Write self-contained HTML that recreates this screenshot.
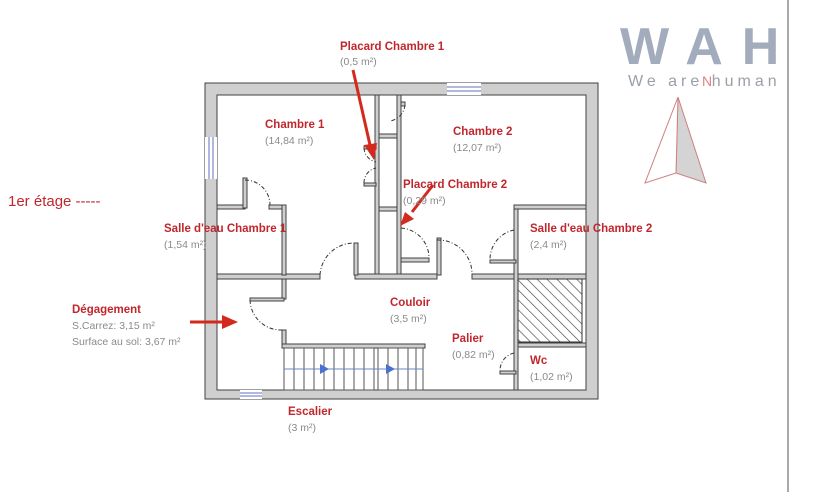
<!DOCTYPE html>
<html><head><meta charset="utf-8"><style>
html,body{margin:0;padding:0;background:#fff;width:828px;height:492px;overflow:hidden}
svg{display:block}
.t{font-family:"Liberation Sans",sans-serif;font-weight:bold;fill:#c0272d;font-size:11.5px}
.s{font-family:"Liberation Sans",sans-serif;fill:#8a8a8a;font-size:10.5px}
.w{fill:#cfcfcf;stroke:#404040;stroke-width:1}
.d{fill:none;stroke:#333;stroke-width:1;stroke-dasharray:4,2,1,2}
</style></head><body>
<svg width="828" height="492" viewBox="0 0 828 492">
<defs>
<pattern id="h" width="7" height="7" patternUnits="userSpaceOnUse" patternTransform="rotate(-45)">
<rect width="7" height="7" fill="#fff"/><line x1="0" y1="0" x2="0" y2="7" stroke="#444" stroke-width="1.3"/></pattern>
</defs>
<line x1="788" y1="0" x2="788" y2="492" stroke="#aaa" stroke-width="2"/>
<path class="w" fill-rule="evenodd" d="M205,83 H598 V399 H205 Z M217,95 V390 H586 V95 Z"/>
<rect x="447" y="83" width="34" height="12" fill="#fff"/>
<line x1="447" y1="87" x2="481" y2="87" stroke="#6070c0"/><line x1="447" y1="91" x2="481" y2="91" stroke="#6070c0"/>
<rect x="205" y="137" width="12" height="42" fill="#fff"/>
<line x1="209" y1="137" x2="209" y2="179" stroke="#6070c0"/><line x1="213" y1="137" x2="213" y2="179" stroke="#6070c0"/>
<rect x="240" y="390" width="22" height="9" fill="#fff"/>
<line x1="240" y1="393" x2="262" y2="393" stroke="#6070c0"/><line x1="240" y1="396" x2="262" y2="396" stroke="#6070c0"/>
<rect class="w" x="375" y="95" width="4" height="180"/>
<rect class="w" x="397" y="95" width="4" height="180"/>
<rect class="w" x="379" y="134" width="18" height="4"/>
<rect class="w" x="379" y="207" width="18" height="4"/>
<rect class="w" x="401" y="102" width="4" height="4"/>
<rect class="w" x="217" y="274" width="103" height="5"/>
<rect class="w" x="355" y="274" width="82" height="5"/>
<rect class="w" x="472" y="274" width="114" height="5"/>
<rect class="w" x="354" y="243" width="4" height="32"/>
<rect class="w" x="437" y="238" width="4" height="37"/>
<rect class="w" x="401" y="258" width="28" height="4"/>
<rect class="w" x="217" y="205" width="28" height="4"/>
<rect class="w" x="269" y="205" width="17" height="4"/>
<rect class="w" x="243" y="178" width="4" height="30"/>
<rect class="w" x="282" y="205" width="4" height="70"/>
<rect class="w" x="514" y="205" width="4" height="185"/>
<rect class="w" x="514" y="205" width="72" height="4"/>
<rect class="w" x="490" y="260" width="26" height="3"/>
<rect class="w" x="282" y="279" width="4" height="20"/>
<rect class="w" x="250" y="298" width="34" height="3"/>
<rect class="w" x="282" y="330" width="4" height="16"/>
<rect class="w" x="282" y="344" width="143" height="4"/>
<rect class="w" x="518" y="343" width="68" height="4"/>
<rect class="w" x="500" y="371" width="16" height="3"/>
<rect class="w" x="364" y="146" width="12" height="3"/>
<rect class="w" x="364" y="183" width="12" height="3"/>
<rect x="518" y="279" width="64" height="63" fill="url(#h)" stroke="#333"/>
<path class="d" d="M245,180 A25,25 0 0 1 270,205"/>
<path class="d" d="M320,275 A34,34 0 0 1 354,243"/>
<path class="d" d="M437,240 A34,34 0 0 1 472,275"/>
<path class="d" d="M401,228 A30,30 0 0 1 429,258"/>
<path class="d" d="M514,230 A30,30 0 0 0 490,260"/>
<path class="d" d="M250,300 A31,31 0 0 0 282,330"/>
<path class="d" d="M405,105 A18,18 0 0 1 390,121"/>
<path class="d" d="M364,148 A15,15 0 0 0 376,162 M364,183 A15,15 0 0 1 376,168"/>
<path class="d" d="M514,353 A18,18 0 0 0 500,371"/>
<g stroke="#555" stroke-width="1" fill="none">
<rect x="284" y="348" width="90" height="42"/><rect x="378" y="348" width="45" height="42"/>
<path d="M294,348V390M304,348V390M314,348V390M324,348V390M334,348V390M344,348V390M354,348V390M364,348V390M388,348V390M398,348V390M408,348V390M416,348V390"/>
</g>
<line x1="284" y1="369" x2="423" y2="369" stroke="#6a86c8"/>
<path d="M320,364 L329,369 L320,374Z M386,364 L395,369 L386,374Z" fill="#4a70d0"/>
<g stroke="#d42a1e" stroke-width="3" fill="#d42a1e">
<line x1="353" y1="70" x2="370" y2="145"/>
<line x1="433" y1="185" x2="412" y2="212"/>
<line x1="190" y1="322" x2="222" y2="322"/>
</g>
<path d="M364,145 L374,160 L377,143Z M405,212 L400,226 L414,219Z M222,315 L238,322 L222,329Z" fill="#d42a1e"/>
<text class="t" x="340" y="50">Placard Chambre 1</text><text class="s" x="340" y="65">(0,5 m²)</text>
<text class="t" x="265" y="128">Chambre 1</text><text class="s" x="265" y="144">(14,84 m²)</text>
<text class="t" x="453" y="135">Chambre 2</text><text class="s" x="453" y="151">(12,07 m²)</text>
<text class="t" x="403" y="188">Placard  Chambre 2</text><text class="s" x="403" y="204">(0,29 m²)</text>
<text class="t" x="164" y="232">Salle d'eau Chambre 1</text><text class="s" x="164" y="248">(1,54 m²)</text>
<text class="t" x="530" y="232">Salle d'eau Chambre 2</text><text class="s" x="530" y="248">(2,4 m²)</text>
<text class="t" x="72" y="313">Dégagement</text><text class="s" x="72" y="329">S.Carrez: 3,15 m²</text><text class="s" x="72" y="345">Surface au sol: 3,67 m²</text>
<text class="t" x="390" y="306">Couloir</text><text class="s" x="390" y="322">(3,5 m²)</text>
<text class="t" x="452" y="342">Palier</text><text class="s" x="452" y="358">(0,82 m²)</text>
<text class="t" x="530" y="364">Wc</text><text class="s" x="530" y="380">(1,02 m²)</text>
<text class="t" x="288" y="415">Escalier</text><text class="s" x="288" y="431">(3 m²)</text>
<text x="8" y="206" font-family="Liberation Sans,sans-serif" font-size="15" fill="#c0272d">1er étage  -----</text>
<text x="620" y="64" font-family="Liberation Sans,sans-serif" font-weight="bold" font-size="52" fill="#a2acbc" letter-spacing="19">WAH</text>
<text x="628" y="86" font-family="Liberation Sans,sans-serif" font-size="16" fill="#9aa0a8" letter-spacing="4">We are human</text>
<text x="702" y="86" font-family="Liberation Sans,sans-serif" font-size="14" fill="#e08080">N</text>
<polygon points="678,97 676,173 706,183" fill="#d4d4d4" stroke="#d08080"/>
<polygon points="678,97 645,183 676,173" fill="#fff" stroke="#d08080"/>
</svg>
</body></html>
